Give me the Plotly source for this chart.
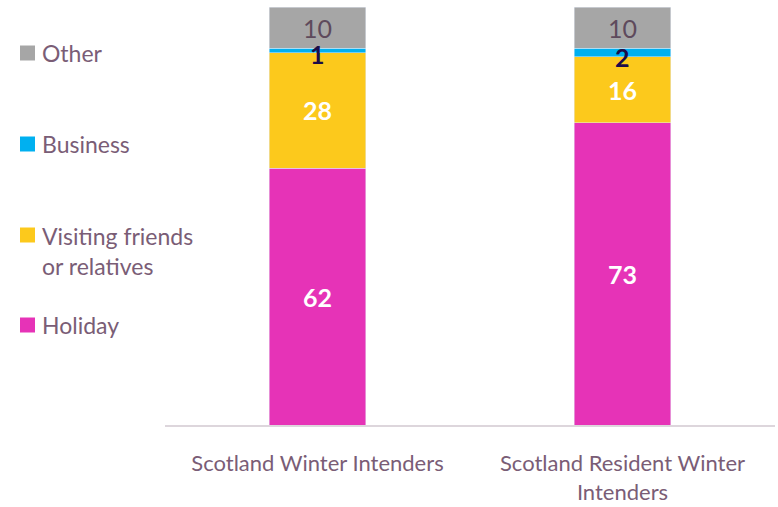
import plotly.graph_objects as go

# data
categories = ["Scotland Winter Intenders", "Scotland Resident Winter<br>Intenders"]
holiday = [62, 73]
vfr = [28, 16]
business = [1, 2]
other = [10, 10]

legend_names = ["Other", "Business", "Visiting friends<br>or relatives", "Holiday"]
legend_colors = ["#a6a6a6", "#00b0f0", "#fcc91c", "#e633b7"]

FONT = "Lato"
TXT = "#7a5d76"

fig = go.Figure()
fig.add_trace(go.Bar(x=categories, y=holiday, marker_color="#e633b7", text=holiday,
                     textposition="inside", insidetextanchor="middle",
                     textfont=dict(color="white", size=25, family=FONT, weight="bold")))
fig.add_trace(go.Bar(x=categories, y=vfr, marker_color="#fcc91c", text=vfr,
                     textposition="inside", insidetextanchor="middle",
                     textfont=dict(color="white", size=25, family=FONT, weight="bold")))
fig.add_trace(go.Bar(x=categories, y=business, marker_color="#00b0f0", textposition="none"))
fig.add_trace(go.Bar(x=categories, y=other, marker_color="#a6a6a6", text=other,
                     textposition="inside", insidetextanchor="middle",
                     textfont=dict(color="#5e4a5c", size=25, family=FONT)))

# small business labels sit over the thin segment
for c, h, v, b in zip(categories, holiday, vfr, business):
    fig.add_annotation(x=c, y=h + v + b / 2, text=str(b), showarrow=False, yshift=-4,
                       font=dict(color="#1b0c48", size=25, family=FONT, weight="bold"))

# hand-made legend on the left
leg_y = [53, 144, 235, 325]
for name, col, yp in zip(legend_names, legend_colors, leg_y):
    yc = 1 - (yp - 7) / 418
    fig.add_shape(type="rect", xref="paper", yref="paper",
                  x0=(20 - 165) / 610, x1=(35 - 165) / 610,
                  y0=yc - 7.5 / 418, y1=yc + 7.5 / 418,
                  fillcolor=col, line_width=0)
    fig.add_annotation(xref="paper", yref="paper", x=(40 - 165) / 610, y=yc,
                       text=name, showarrow=False, xanchor="left",
                       yanchor="top" if "<br>" in name else "middle",
                       yshift=15 if "<br>" in name else 0, align="left",
                       font=dict(color=TXT, size=23, family=FONT))

fig.update_layout(
    barmode="stack", bargap=0.685, showlegend=False,
    width=778, height=507, margin=dict(l=165, r=3, t=7, b=82),
    plot_bgcolor="white", paper_bgcolor="white",
    font=dict(family=FONT, color=TXT, size=22),
)
fig.update_xaxes(showline=True, linecolor="#ddd6dc", linewidth=2, ticks="",
                 ticklabelstandoff=18, tickfont=dict(size=22, color=TXT))
fig.update_yaxes(range=[0, 101], visible=False, showgrid=False)

fig.write_html("out.html", config={"displayModeBar": False},
               post_script="document.body.style.margin='0';")
